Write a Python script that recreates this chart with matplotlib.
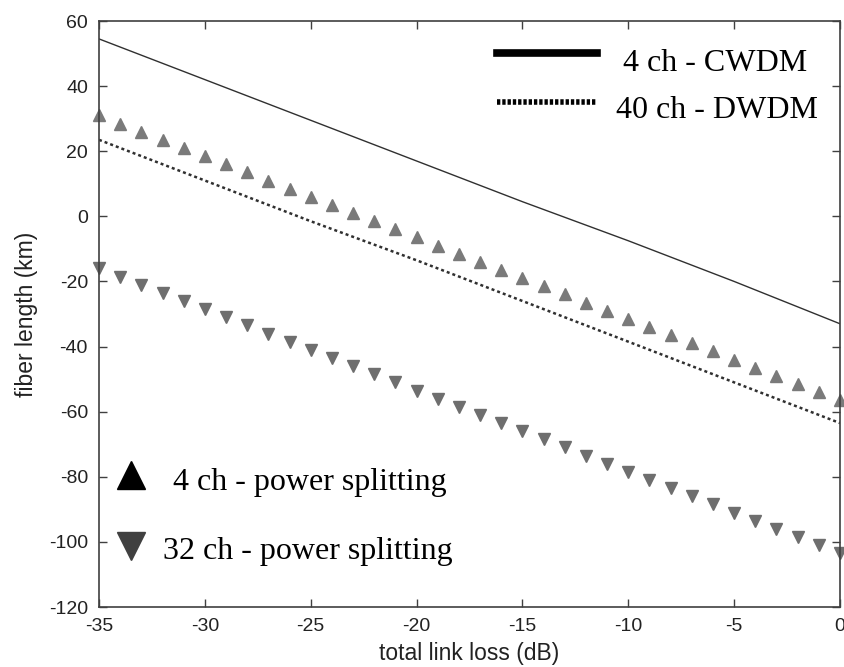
import matplotlib
matplotlib.use("Agg")
import matplotlib.pyplot as plt
from matplotlib.lines import Line2D

plt.rcParams["axes.unicode_minus"] = False

# total link loss (dB)
loss_lines = [-35, -30, -25, -20, -15, -10, -5, 0]
cwdm_4ch = [54.5, 42, 29.5, 17, 4.5, -7.5, -20, -33]
dwdm_40ch = [23.5, 11, -1.5, -13.5, -26, -38.5, -51, -63.5]

loss_pts = list(range(-35, 1))
split_4ch = [31, 28.5, 26, 23.5, 21, 18.5, 16, 13.5, 11, 8.5, 6, 3.5, 1,
             -1.5, -4, -6.5, -9, -11.5, -14, -16.5, -19, -21.5, -24, -26.5,
             -29, -31.5, -34, -36.5, -39, -41.5, -44, -46.5, -49, -51.5,
             -54, -56.5]
split_32ch = [-16, -18.5, -21, -23.5, -26, -28.5, -31, -33.5, -36, -38.5,
              -41, -43.5, -46, -48.5, -51, -53.5, -56, -58.5, -61, -63.5,
              -66, -68.5, -71, -73.5, -76, -78.5, -81, -83.5, -86, -88.5,
              -91, -93.5, -96, -98.5, -101, -103.5]

fig = plt.figure(figsize=(8.44, 6.67), dpi=100)
ax = fig.add_axes([99 / 844, 1 - 607 / 667, 741 / 844, 586 / 667])

ax.plot(loss_lines, cwdm_4ch, color="#303030", linewidth=1.0)
ax.plot(loss_lines, dwdm_40ch, color="#303030", linewidth=1.8,
        linestyle=(0, (1.2, 1.2)))
ax.plot(loss_pts, split_4ch, linestyle="none", marker="^", markersize=8,
        color="#7a7a7a", clip_on=False)
ax.plot(loss_pts, split_32ch, linestyle="none", marker="v", markersize=8,
        color="#6e6e6e", clip_on=False)

ax.set_xlim(-35, 0)
ax.set_ylim(-120, 60)
ax.set_xticks(range(-35, 1, 5))
ax.set_yticks(range(-120, 61, 20))

for s in ax.spines.values():
    s.set_color("#404040")
    s.set_linewidth(1.2)
ax.tick_params(direction="in", length=6, width=1.0, color="#404040",
               top=True, right=True, labelsize=14, labelcolor="#222222",
               pad=8)
for lab in ax.get_xticklabels() + ax.get_yticklabels():
    lab.set_family("Liberation Sans")

ax.set_xlabel("total link loss (dB)", fontsize=16.5, family="Liberation Sans",
              color="#222222", labelpad=5)
ax.set_ylabel("fiber length (km)", fontsize=16.5, family="Liberation Sans",
              color="#222222", labelpad=8)

# hand-drawn legend
serif = dict(family="Liberation Serif", fontsize=23, color="black",
             va="baseline")
ax.add_line(Line2D([-16.2, -11.5], [50.2, 50.2], color="black", linewidth=5.5))
ax.add_line(Line2D([-16.2, -11.5], [35.1, 35.1], color="black", linewidth=4,
                   linestyle=(0, (0.6, 0.35))))
ax.text(-10.25, 44.6, "4 ch - CWDM", **serif)
ax.text(-10.6, 30.2, "40 ch - DWDM", **serif)

ax.plot([-33.5], [-79.4], marker="^", markersize=20, color="black")
ax.plot([-33.5], [-101.2], marker="v", markersize=20, color="#404040")
ax.text(-31.5, -84, "4 ch - power splitting", **serif)
ax.text(-32.0, -105.2, "32 ch - power splitting", **serif)

fig.savefig("out.png", dpi=100)
